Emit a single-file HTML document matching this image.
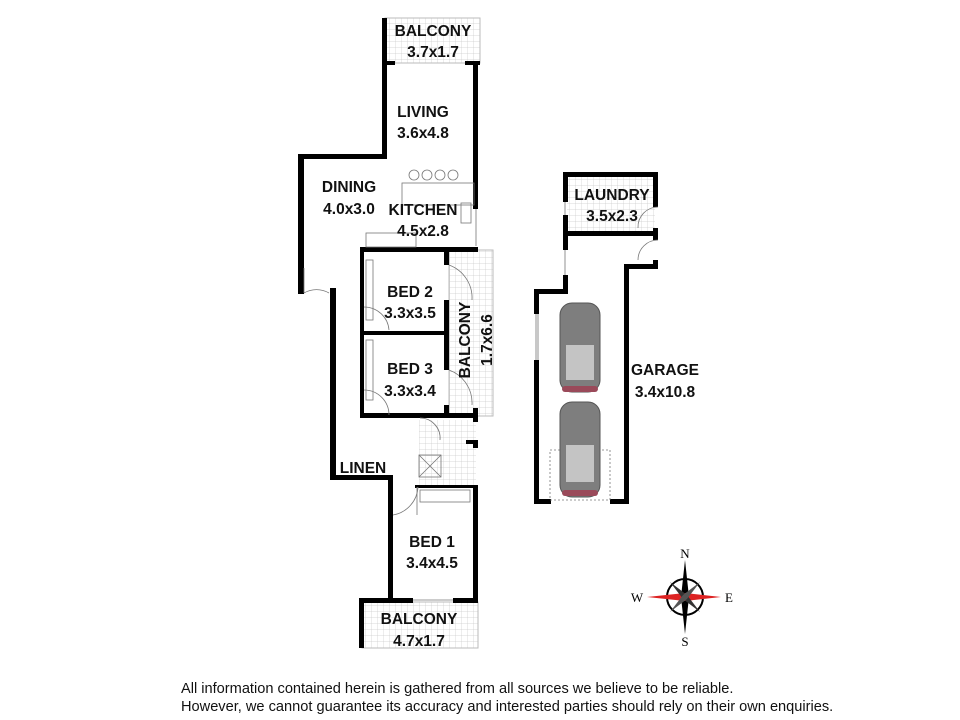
<!DOCTYPE html>
<html><head><meta charset="utf-8"><style>
body{margin:0;background:#fff;}
svg{display:block}
text{font-family:"Liberation Sans",Arial,sans-serif;}
.l{font-weight:bold;font-size:15.5px;text-anchor:middle;fill:#111}
.c{font-family:"Liberation Serif",serif;font-size:13px;text-anchor:middle}
</style></head><body>
<svg width="960" height="720" viewBox="0 0 960 720">
<defs>
<pattern id="g" width="6" height="6" patternUnits="userSpaceOnUse">
<path d="M6 0V6H0" fill="none" stroke="#ccc" stroke-width="0.7"/></pattern>
</defs>
<rect x="385" y="18" width="95" height="45" fill="url(#g)" stroke="#bbb"/>
<rect x="449" y="250" width="44" height="166" fill="url(#g)" stroke="#bbb"/>
<rect x="362" y="602" width="116" height="46" fill="url(#g)" stroke="#bbb"/>
<rect x="567" y="176" width="88" height="57" fill="url(#g)"/>
<rect x="419" y="420" width="57" height="65" fill="url(#g)"/>
<g fill="#000">
<rect x="382" y="18" width="5" height="140"/>
<rect x="382" y="61" width="13" height="4"/>
<rect x="465" y="61" width="15" height="4"/>
<rect x="473" y="61" width="5" height="148"/>
<rect x="298" y="154" width="89" height="5"/>
<rect x="298" y="154" width="6" height="140"/>
<rect x="330" y="288" width="6" height="192"/>
<rect x="330" y="475" width="62" height="5"/>
<rect x="388" y="475" width="5" height="128"/>
<rect x="359" y="598" width="54" height="5"/>
<rect x="453" y="598" width="25" height="5"/>
<rect x="359" y="598" width="5" height="50"/>
<rect x="473" y="487" width="5" height="116"/>
<rect x="360" y="247" width="118" height="5"/>
<rect x="360" y="247" width="4" height="170"/>
<rect x="360" y="331" width="88" height="4"/>
<rect x="360" y="413" width="118" height="5"/>
<rect x="444" y="250" width="5" height="15"/>
<rect x="444" y="300" width="5" height="70"/>
<rect x="444" y="405" width="5" height="12"/>
<rect x="473" y="408" width="5" height="14"/>
<rect x="466" y="440" width="10" height="4"/>
<rect x="473" y="440" width="5" height="8"/>
<rect x="415" y="485" width="63" height="3"/>
<rect x="563" y="172" width="95" height="5"/>
<rect x="563" y="172" width="5" height="30"/>
<rect x="563" y="215" width="5" height="35"/>
<rect x="563" y="275" width="5" height="18"/>
<rect x="563" y="231" width="95" height="5"/>
<rect x="653" y="172" width="5" height="35"/>
<rect x="653" y="228" width="5" height="12"/>
<rect x="653" y="260" width="5" height="9"/>
<rect x="624" y="264" width="34" height="5"/>
<rect x="624" y="264" width="5" height="240"/>
<rect x="534" y="289" width="34" height="5"/>
<rect x="534" y="289" width="5" height="25"/>
<rect x="534" y="360" width="5" height="144"/>
<rect x="534" y="499" width="17" height="5"/>
<rect x="610" y="499" width="19" height="5"/>
</g>
<g fill="none" stroke="#777" stroke-width="0.8">
<path d="M304 293 A25 25 0 0 1 329 293"/><path d="M304 268 V293"/>
<path d="M449 265 A35 35 0 0 1 472 300"/><path d="M449 370 A35 35 0 0 1 472 405"/>
<path d="M364 390 A25 25 0 0 1 389 415"/><path d="M364 307 A25 25 0 0 1 389 330"/>
<path d="M393 515 A30 30 0 0 0 418 487"/><path d="M417 487 V515"/>
<path d="M413 600 h40"/><path d="M420 418 A20 20 0 0 1 440 440"/>
<path d="M658 207 A20 20 0 0 0 638 228"/><path d="M658 240 A20 20 0 0 0 638 260"/>
<path d="M536 314 V360 M538 314 V360 M565 202 V215 M565 250 V275 M476 209 V246"/>
<circle cx="414" cy="175" r="5"/><circle cx="427" cy="175" r="5"/><circle cx="440" cy="175" r="5"/><circle cx="453" cy="175" r="5"/>
<rect x="402" y="183" width="72" height="22"/>
<rect x="366" y="233" width="50" height="14"/><rect x="461" y="203" width="10" height="20"/>
<rect x="419" y="455" width="22" height="22"/><path d="M419 455 l22 22 M441 455 l-22 22"/>
<rect x="550" y="450" width="60" height="50" stroke-dasharray="2 2"/>
<rect x="366" y="260" width="7" height="60"/><rect x="366" y="340" width="7" height="60"/>
<rect x="420" y="490" width="50" height="12"/>
</g>
<g>
<rect x="560" y="303" width="40" height="89" rx="12" fill="#7e7e7e" stroke="#555"/>
<rect x="566" y="345" width="28" height="35" fill="#c4c4c4"/>
<rect x="562" y="386" width="36" height="6" rx="3" fill="#9a4a5a"/>
<rect x="560" y="402" width="40" height="95" rx="12" fill="#7e7e7e" stroke="#555"/>
<rect x="566" y="445" width="28" height="37" fill="#c4c4c4"/>
<rect x="562" y="490" width="36" height="6" rx="3" fill="#9a4a5a"/>
</g>
<text class="l" x="433" y="36">BALCONY</text><text class="l" x="433" y="57">3.7x1.7</text>
<text class="l" x="423" y="117">LIVING</text><text class="l" x="423" y="138">3.6x4.8</text>
<text class="l" x="349" y="192">DINING</text><text class="l" x="349" y="214">4.0x3.0</text>
<text class="l" x="423" y="215">KITCHEN</text><text class="l" x="423" y="236">4.5x2.8</text>
<text class="l" x="410" y="297">BED 2</text><text class="l" x="410" y="318">3.3x3.5</text>
<text class="l" x="410" y="374">BED 3</text><text class="l" x="410" y="396">3.3x3.4</text>
<text class="l" transform="translate(470,340) rotate(-90)">BALCONY</text>
<text class="l" transform="translate(492,340) rotate(-90)">1.7x6.6</text>
<text class="l" x="363" y="473">LINEN</text>
<text class="l" x="432" y="547">BED 1</text><text class="l" x="432" y="568">3.4x4.5</text>
<text class="l" x="419" y="624">BALCONY</text><text class="l" x="419" y="646">4.7x1.7</text>
<text class="l" x="612" y="200">LAUNDRY</text><text class="l" x="612" y="221">3.5x2.3</text>
<text class="l" x="665" y="375">GARAGE</text><text class="l" x="665" y="397">3.4x10.8</text>
<g>
<circle cx="685" cy="597" r="18" fill="none" stroke="#000" stroke-width="2"/>
<polygon points="685,560 689,597 685,634 681,597" fill="#000"/>
<polygon points="647,597 685,593 721,597 685,601" fill="#d22"/>
<polygon points="670,582 687,595 700,612 683,599" fill="#333"/>
<polygon points="700,582 687,599 670,612 683,595" fill="#555"/>
<text class="c" x="685" y="558">N</text>
<text class="c" x="685" y="646">S</text>
<text class="c" x="637" y="602">W</text>
<text class="c" x="729" y="602">E</text>
</g>
<text x="181" y="693" font-size="14.6" fill="#111">All information contained herein is gathered from all sources we believe to be reliable.</text>
<text x="181" y="711" font-size="14.6" fill="#111">However, we cannot guarantee its accuracy and interested parties should rely on their own enquiries.</text>
</svg>
</body></html>
